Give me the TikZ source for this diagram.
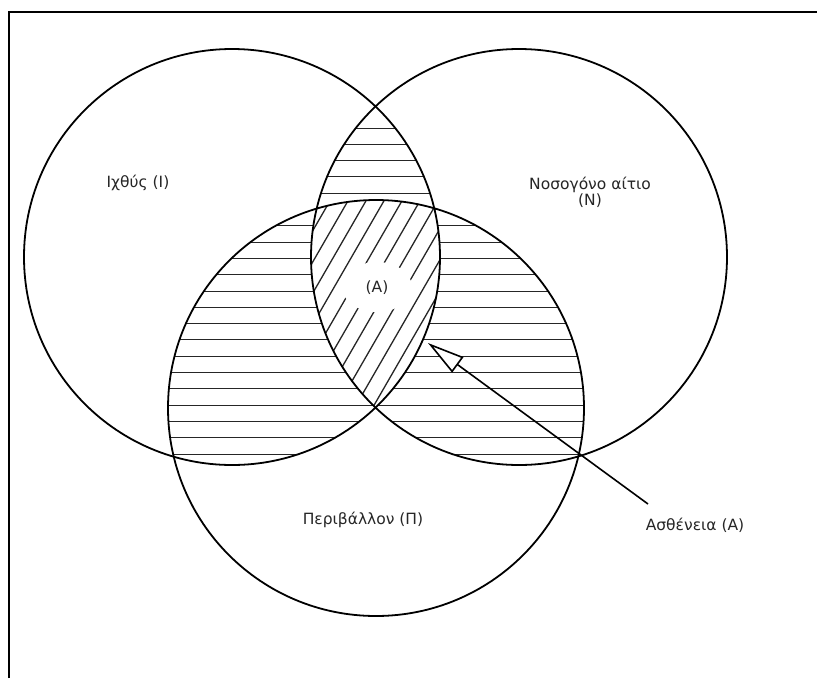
\documentclass[tikz,border=0pt]{standalone}
\usepackage{fontspec}
\newfontfamily\lab{DejaVu Sans}
\usetikzlibrary{arrows.meta}
\begin{document}
\begin{tikzpicture}[x=1pt,y=-1pt,
  circ/.style={draw=black,line width=1.8pt},
  hatch/.style={draw=black!85,line width=1.3pt},
  txt/.style={text=black!85,font=\lab\fontsize{15.5}{17}\selectfont,inner sep=0pt},
  frame/.style={draw=black,line width=2pt}]
\useasboundingbox (0,0) rectangle (817,678);
\fill[white] (0,0) rectangle (817,678);
\def\circI{(232,257) circle[radius=208pt]}
\def\circN{(519,257) circle[radius=208pt]}
\def\circP{(376,408) circle[radius=208pt]}
\def\hlines{\foreach \k in {0,...,21}{\pgfmathsetmacro\yy{round(127.5+16.3*\k)+0.5}\draw[hatch] (0,\yy) -- (817,\yy);}}
% horizontal hatching in pairwise intersections
\begin{scope}\clip \circI; \clip \circN; \hlines \end{scope}
\begin{scope}\clip \circI; \clip \circP; \hlines \end{scope}
\begin{scope}\clip \circN; \clip \circP; \hlines \end{scope}
% triple intersection: diagonal hatching
\begin{scope}\clip \circI; \clip \circN; \clip \circP;
  \fill[white] (0,0) rectangle (817,678);
  \foreach \c in {120,138,...,520}{\draw[hatch] (\c,440) -- ++(150,-260);}
  \fill[white] (377,287) ellipse[x radius=35pt,y radius=25pt];
\end{scope}
% circles
\draw[circ] \circI;
\draw[circ] \circN;
\draw[circ] \circP;
% frame
\draw[frame] (9,678) -- (9,12) -- (817,12);
% labels
\node[txt] (lI) at (138,183) {Ιχθύς (Ι)};
\node[txt,align=center] (lN) at (590,192) {Νοσογόνο αίτιο\\[-1pt](N)};
\node[txt] (lA) at (377,288) {(A)};
\node[txt] (lP) at (363,520) {Περιβάλλον (Π)};
\node[txt] (lD) at (695,525) {Ασθένεια (A)};
% arrow
\coordinate (tail) at (648,504);
\coordinate (tip) at (428,343);
\draw[line width=1.6pt,-{Triangle[length=37pt,width=19pt,fill=white,line width=1.6pt]}] (tail) -- (tip);
\end{tikzpicture}
\end{document}
